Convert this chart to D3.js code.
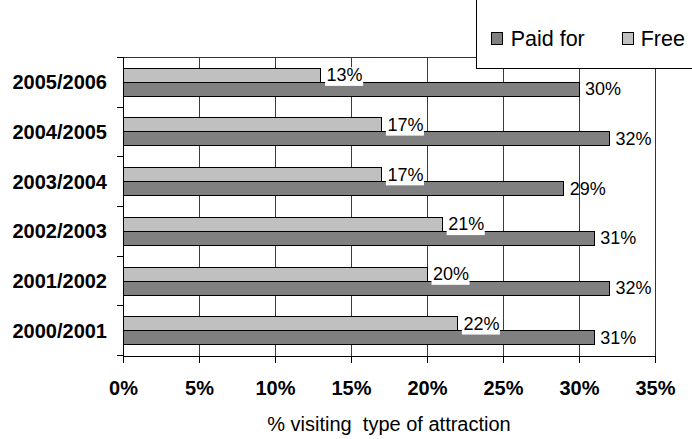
<!DOCTYPE html>
<html>
<head>
<meta charset="utf-8">
<script src="https://cdn.jsdelivr.net/npm/d3@7"></script>
<style>
  html, body { margin: 0; padding: 0; background: #fff; }
  svg { display: block; font-family: "Liberation Sans", Arial, Helvetica, sans-serif; }
</style>
</head>
<body>
<svg id="chart" width="692" height="439"></svg>
<script>
// Season categories, bottom to top
const categories = ["2000/2001", "2001/2002", "2002/2003", "2003/2004", "2004/2005", "2005/2006"];
// % visiting each type of attraction
const paidFor = [31, 32, 31, 29, 32, 30];
const free = [22, 20, 21, 17, 17, 13];
const xTickValues = [0, 5, 10, 15, 20, 25, 30, 35];
const seriesNames = ["Free", "Paid for"];
const seriesColors = { "Paid for": "#808080", "Free": "#c0c0c0" };

const svg = d3.select("#chart");
const plot = { left: 123, right: 655, top: 57.3, bottom: 355.7 };

const x = d3.scaleLinear().domain([0, 35]).range([plot.left, plot.right]);
// top row is the latest season
const y = d3.scaleBand().domain(categories.slice().reverse()).range([plot.top, plot.bottom]);
const ySub = d3.scaleBand().domain(seriesNames).range([0, y.bandwidth()]).paddingInner(0).paddingOuter(0.775);

const rows = categories.map((c, i) => ({ cat: c, "Paid for": paidFor[i], "Free": free[i] }));

// vertical gridlines
svg.append("g")
  .selectAll("line")
  .data(xTickValues.filter(v => v > 0 && v < 35))
  .join("line")
  .attr("x1", d => x(d)).attr("x2", d => x(d))
  .attr("y1", plot.top).attr("y2", plot.bottom)
  .attr("stroke", "#3a3a3a").attr("stroke-width", 1).attr("shape-rendering", "crispEdges");

// plot area border (top and right)
svg.append("path")
  .attr("d", `M${plot.left},${plot.top}H${plot.right}V${plot.bottom}`)
  .attr("fill", "none").attr("stroke", "#333").attr("stroke-width", 1).attr("shape-rendering", "crispEdges");

// bars
const groups = svg.append("g").selectAll("g")
  .data(rows).join("g")
  .attr("transform", d => `translate(0,${y(d.cat)})`);

groups.selectAll("rect")
  .data(d => seriesNames.map(s => ({ s, v: d[s] })))
  .join("rect")
  .attr("x", x(0))
  .attr("y", d => ySub(d.s))
  .attr("width", d => x(d.v) - x(0))
  .attr("height", ySub.bandwidth())
  .attr("fill", d => seriesColors[d.s])
  .attr("stroke", "#000").attr("stroke-width", 1).attr("shape-rendering", "crispEdges");

// value labels
const labelSize = 18;
groups.each(function (d) {
  const g = d3.select(this);
  seriesNames.forEach(s => {
    const cy = ySub(s) + ySub.bandwidth() / 2;
    const t = g.append("text")
      .attr("x", x(d[s]) + 6)
      .attr("y", cy + labelSize * 0.34)
      .attr("font-size", labelSize)
      .attr("fill", "#000")
      .text(d[s] + "%");
    if (s === "Free") {
      const bb = t.node().getBBox();
      g.insert("rect", () => t.node())
        .attr("x", bb.x - 1.5).attr("y", bb.y + 2)
        .attr("width", bb.width + 2).attr("height", 18.6)
        .attr("fill", "#fff");
    }
  });
});

// x axis
const xAxis = svg.append("g")
  .attr("transform", `translate(0,${plot.bottom})`)
  .call(d3.axisBottom(x).tickValues(xTickValues).tickSize(7).tickSizeOuter(0).tickFormat(d => d + "%"));
xAxis.select(".domain").attr("stroke", "#000").attr("shape-rendering", "crispEdges");
xAxis.selectAll(".tick line").attr("stroke", "#000").attr("shape-rendering", "crispEdges");
xAxis.selectAll(".tick text")
  .attr("font-family", "Liberation Sans, Arial, sans-serif")
  .attr("font-size", 20).attr("font-weight", "bold").attr("fill", "#000")
  .attr("y", 0).attr("dy", 39.3);

// y axis with ticks on band boundaries
svg.append("line")
  .attr("x1", plot.left).attr("x2", plot.left)
  .attr("y1", plot.top).attr("y2", plot.bottom)
  .attr("stroke", "#000").attr("shape-rendering", "crispEdges");
const yBounds = y.domain().map(c => y(c)).concat([plot.bottom]);
svg.append("g").selectAll("line")
  .data(yBounds).join("line")
  .attr("x1", plot.left - 6).attr("x2", plot.left)
  .attr("y1", d => d).attr("y2", d => d)
  .attr("stroke", "#000").attr("shape-rendering", "crispEdges");
svg.append("g").selectAll("text")
  .data(y.domain()).join("text")
  .attr("x", 107)
  .attr("y", d => y(d) + y.bandwidth() / 2 + 20 * 0.35)
  .attr("text-anchor", "end")
  .attr("font-size", 20).attr("font-weight", "bold").attr("fill", "#000")
  .text(d => d);

// x axis title
svg.append("text")
  .attr("x", (plot.left + plot.right) / 2)
  .attr("y", 430.7)
  .attr("text-anchor", "middle")
  .attr("font-size", 20).attr("fill", "#000")
  .attr("xml:space", "preserve")
  .style("white-space", "pre")
  .text("% visiting  type of attraction");

// legend
const legend = svg.append("g");
legend.append("rect")
  .attr("x", 476.5).attr("y", -2).attr("width", 230).attr("height", 70.5)
  .attr("fill", "#fff").attr("stroke", "#000").attr("stroke-width", 1);
const legendItems = [
  { name: "Paid for", sx: 491, tx: 510.7 },
  { name: "Free", sx: 622, tx: 640.7 }
];
legendItems.forEach(it => {
  legend.append("rect")
    .attr("x", it.sx).attr("y", 32.5).attr("width", 11.5).attr("height", 11.5)
    .attr("fill", seriesColors[it.name]).attr("stroke", "#000").attr("stroke-width", 1)
    .attr("shape-rendering", "crispEdges");
  legend.append("text")
    .attr("x", it.tx).attr("y", 45.7)
    .attr("font-size", 21.5).attr("fill", "#000")
    .text(it.name);
});
</script>
</body>
</html>
